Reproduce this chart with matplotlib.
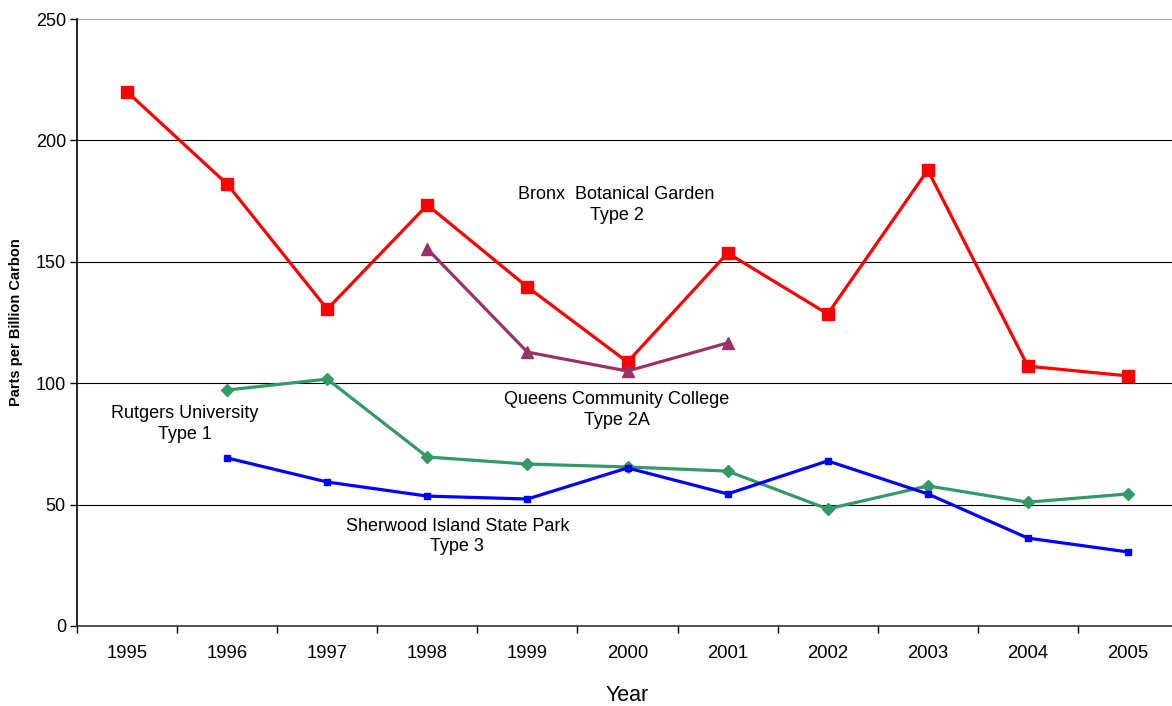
import matplotlib
matplotlib.use('Agg')
import matplotlib.pyplot as plt
import numpy as np

plt.rcParams['font.family'] = ['Liberation Sans', 'DejaVu Sans']

years = ['1995', '1996', '1997', '1998', '1999', '2000',
         '2001', '2002', '2003', '2004', '2005']

# Bronx Botanical Garden (Type 2)
bronx = [220, 182, 130.5, 173.4, 139.6, 108.7, 153.6, 128.5, 187.8, 107, 103]
# Queens Community College (Type 2A), 1998-2001
queens = [None, None, None, 155.3, 112.8, 105, 116.6, None, None, None, None]
# Rutgers University (Type 1), 1996-2005
rutgers = [None, 97.2, 101.7, 69.6, 66.7, 65.5, 63.8, 48.2, 57.7, 51, 54.4]
# Sherwood Island State Park (Type 3), 1996-2005
sherwood = [None, 69.2, 59.3, 53.5, 52.3, 65.1, 54.4, 68, 54.4, 36.2, 30.5]


def arr(v):
    return np.array([np.nan if x is None else x for x in v], dtype=float)


x = np.arange(len(years))

fig = plt.figure(figsize=(11.72, 7.06), dpi=100)
ax = fig.add_axes([77 / 1172, 80 / 706, 1101 / 1172, 607 / 706])

for yv in [50, 100, 150, 200]:
    ax.axhline(yv, color='black', lw=0.8, zorder=0)
ax.axhline(250, color='#999999', lw=1.2, zorder=0)

ax.plot(x, arr(bronx), color='#FF0000', lw=2.3, marker='s', ms=8, zorder=3)
ax.plot(x, arr(queens), color='#993366', lw=2.3, marker='^', ms=8, zorder=4)
ax.plot(x, arr(rutgers), color='#339966', lw=2.3, marker='D', ms=6, zorder=3)
ax.plot(x, arr(sherwood), color='#0000FF', lw=2.3, marker='s', ms=3.8, zorder=3)

ax.set_xlim(-0.5, 10.5)
ax.set_ylim(0, 250)
ax.set_yticks([0, 50, 100, 150, 200, 250])
ax.set_xticks(x)
ax.set_xticklabels(years)
ax.set_xticks(np.arange(-0.5, 11, 1), minor=True)
ax.tick_params(axis='x', which='major', length=0, labelsize=13.3, pad=14)
ax.tick_params(axis='x', which='minor', length=5, width=1, direction='out')
ax.tick_params(axis='y', length=5, width=1, direction='out', labelsize=13, pad=3)

for s in ['top', 'right']:
    ax.spines[s].set_visible(False)
ax.spines['left'].set_linewidth(1.2)
ax.spines['bottom'].set_linewidth(1.2)
ax.spines['bottom'].set_color('#333333')

ax.set_xlabel('Year', fontsize=15.5, labelpad=16)
ax.set_ylabel('Parts per Billion Carbon', fontsize=10.5, fontweight='bold', labelpad=9)

ax.text(4.89, 173.4, 'Bronx  Botanical Garden\nType 2', ha='center', va='center',
        fontsize=13, linespacing=1.25)
ax.text(4.89, 89, 'Queens Community College\nType 2A', ha='center', va='center',
        fontsize=13, linespacing=1.25)
ax.text(0.58, 83.2, 'Rutgers University\nType 1', ha='center', va='center',
        fontsize=13, linespacing=1.25)
ax.text(3.3, 37, 'Sherwood Island State Park\nType 3', ha='center', va='center',
        fontsize=13, linespacing=1.25)

fig.savefig('out.png', dpi=100)
